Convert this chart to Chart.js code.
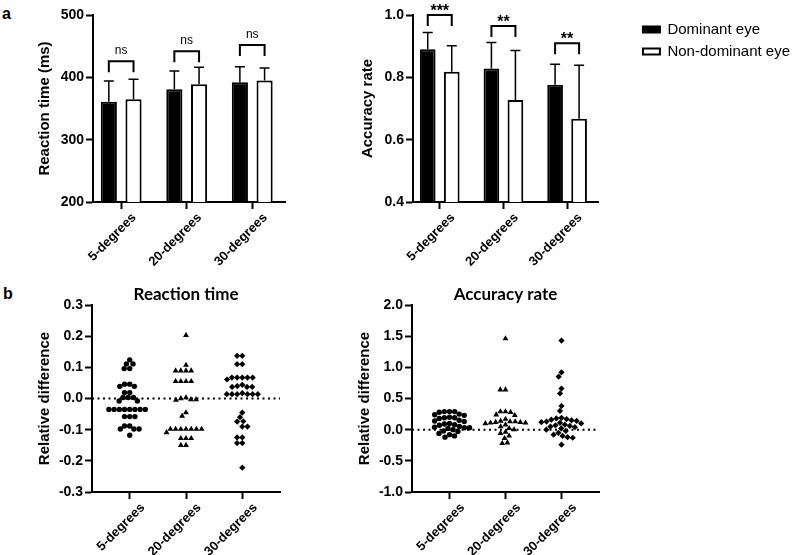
<!DOCTYPE html>
<html>
<head>
<meta charset="utf-8">
<script src="https://cdn.jsdelivr.net/npm/chart.js@4.4.1/dist/chart.umd.min.js"></script>
<style>
  body { margin: 0; background: #fff; }
  #figure { position: relative; width: 800px; height: 555px; overflow: hidden; }
  canvas { position: absolute; }
  .panel-label { position: absolute; font: bold 16px "Liberation Sans", Arial, sans-serif; color: #000; }
</style>
</head>
<body>
<div id="figure">
  <div class="panel-label" style="left:2px;top:5px">a</div>
  <div class="panel-label" style="left:3px;top:285px">b</div>
  <canvas id="rt-bars" width="300" height="280" style="left:0;top:0"></canvas>
  <canvas id="acc-bars" width="510" height="280" style="left:290px;top:0"></canvas>
  <canvas id="rt-diff" width="300" height="275" style="left:0;top:280px"></canvas>
  <canvas id="acc-diff" width="500" height="275" style="left:300px;top:280px"></canvas>
</div>
<script>
// Catégories communes aux quatre panneaux
const categories = ['5-degrees', '20-degrees', '30-degrees'];

// Panneau a : temps de réaction (moyenne, écart-type en ms)
const rtDominantMean = [361, 381, 392];
const rtDominantSd = [33, 29, 25];
const rtNonDominantMean = [365, 389, 395];
const rtNonDominantSd = [32, 27, 20];
const rtBracket = [426, 442, 452];
const rtSignif = ['ns', 'ns', 'ns'];

// Panneau a : taux de bonnes réponses
const accDominantMean = [0.890, 0.828, 0.776];
const accDominantSd = [0.054, 0.084, 0.066];
const accNonDominantMean = [0.818, 0.727, 0.667];
const accNonDominantSd = [0.083, 0.159, 0.172];
const accBracket = [1.0, 0.965, 0.909];
const accSignif = ['***', '**', '**'];

// Panneau b : différence relative, temps de réaction
const rtDiff5 = [0.124, 0.111, 0.111, 0.096, 0.096, 0.046, 0.046, 0.039, 0.039, 0.019, 0.019,
  0.003, 0.003, 0.003, -0.008, -0.008, -0.035, -0.035, -0.035, -0.035, -0.035, -0.035, -0.035,
  -0.035, -0.058, -0.058, -0.058, -0.088, -0.088, -0.098, -0.098, -0.098, -0.118];
const rtDiff20 = [0.203, 0.107, 0.089, 0.089, 0.089, 0.089, 0.055, 0.055, 0.055, 0.055, 0.0,
  0.003, -0.003, -0.003, -0.005, -0.045, -0.056, -0.098, -0.098, -0.098, -0.098, -0.098, -0.098,
  -0.098, -0.109, -0.128, -0.128, -0.128, -0.150, -0.150];
const rtDiff30 = [0.137, 0.137, 0.110, 0.110, 0.067, 0.067, 0.067, 0.067, 0.067, 0.061, 0.044,
  0.040, 0.037, 0.037, 0.037, 0.017, 0.014, 0.014, 0.014, 0.014, 0.014, 0.014, -0.045, -0.060,
  -0.073, -0.074, -0.090, -0.090, -0.125, -0.125, -0.143, -0.143, -0.222];

// Panneau b : différence relative, taux de bonnes réponses
const accDiff5 = [0.29, 0.29, 0.29, 0.28, 0.25, 0.24, 0.23, 0.20, 0.19, 0.19, 0.18, 0.15, 0.14,
  0.13, 0.10, 0.09, 0.08, 0.07, 0.05, 0.04, 0.03, 0.03, 0.02, 0.00, -0.02, -0.03, -0.06, -0.08,
  -0.10, -0.12];
const accDiff20 = [1.46, 0.64, 0.64, 0.29, 0.29, 0.28, 0.24, 0.23, 0.17, 0.14, 0.13, 0.13, 0.12,
  0.12, 0.11, 0.11, 0.10, 0.08, 0.05, 0.02, 0.00, -0.04, -0.06, -0.10, -0.14, -0.21, -0.22];
const accDiff30 = [1.43, 0.92, 0.85, 0.66, 0.58, 0.38, 0.30, 0.19, 0.18, 0.17, 0.16, 0.15, 0.14,
  0.13, 0.12, 0.11, 0.10, 0.08, 0.07, 0.06, 0.05, 0.04, 0.02, 0.00, -0.02, -0.05, -0.08, -0.10,
  -0.12, -0.13, -0.24];

const FONT = '"Liberation Sans", Arial, sans-serif';
Chart.defaults.font.family = FONT;
Chart.defaults.color = '#000';

// Limites et taille (px) des zones de tracé des panneaux b
const STRIP_X_MIN = -0.67;
const STRIP_X_MAX = 2.67;
const STRIP_W = 188;
const STRIP_H = 187;
const DOT = 5.2;
const markerStyles = ['circle', 'triangle', 'rectRot'];
const markerRadius = [2.7, 3.4, 3.1];

const oneDecimal = (v) => (Math.abs(v) < 1e-9 ? 0 : v).toFixed(1);

// Axe x numérique avec une graduation par catégorie
function xAxis(min, max, height) {
    return {
        type: 'linear',
        min: min,
        max: max,
        bounds: 'data',
        offset: false,
        afterBuildTicks: (axis) => { axis.ticks = categories.map((c, i) => ({ value: i })); },
        afterFit: (axis) => { axis.height = height; },
        ticks: {
            autoSkip: false,
            minRotation: 45,
            maxRotation: 45,
            padding: 1,
            labelOffset: 13,
            color: '#000',
            font: { size: 13, weight: 'bold' },
            callback: (v, i) => categories[i]
        },
        grid: { offset: false, drawOnChartArea: false, tickLength: 7, tickWidth: 2, tickColor: '#000' },
        border: { color: '#000', width: 2 }
    };
}

function yAxis(opts) {
    return {
        min: opts.min,
        max: opts.max,
        beginAtZero: false,
        afterFit: (axis) => { axis.width = opts.width; },
        ticks: {
            stepSize: opts.step,
            padding: 2,
            color: '#000',
            font: { size: 14, weight: 'bold' },
            callback: opts.format
        },
        grid: { drawOnChartArea: false, tickLength: 7, tickWidth: 2, tickColor: '#000' },
        border: { color: '#000', width: 2 },
        title: {
            display: true,
            text: opts.title,
            color: '#000',
            font: { size: 15, weight: 'bold' },
            padding: { top: opts.titleGap, bottom: 0 }
        }
    };
}

// Barres d'erreur et crochets de significativité
function sigMarks(sds, levels, labels) {
    return {
        id: 'sigMarks',
        afterDatasetsDraw(chart) {
            const ctx = chart.ctx;
            const y = chart.scales.y;
            ctx.save();
            ctx.strokeStyle = '#000';
            ctx.fillStyle = '#000';
            ctx.lineWidth = 1.5;
            chart.data.datasets.forEach((ds, d) => {
                chart.getDatasetMeta(d).data.forEach((bar, i) => {
                    const top = y.getPixelForValue(ds.data[i].y + sds[d][i]);
                    ctx.beginPath();
                    ctx.moveTo(bar.x, bar.y);
                    ctx.lineTo(bar.x, top);
                    ctx.moveTo(bar.x - 5, top);
                    ctx.lineTo(bar.x + 5, top);
                    ctx.stroke();
                });
            });
            const left = chart.getDatasetMeta(0).data;
            const right = chart.getDatasetMeta(1).data;
            ctx.lineWidth = 2;
            ctx.textAlign = 'center';
            ctx.textBaseline = 'alphabetic';
            levels.forEach((level, i) => {
                const yb = y.getPixelForValue(level);
                ctx.beginPath();
                ctx.moveTo(left[i].x, yb + 11);
                ctx.lineTo(left[i].x, yb);
                ctx.lineTo(right[i].x, yb);
                ctx.lineTo(right[i].x, yb + 11);
                ctx.stroke();
                const stars = labels[i] !== 'ns';
                ctx.font = stars ? 'bold 16px ' + FONT : '12px ' + FONT;
                ctx.fillText(labels[i], (left[i].x + right[i].x) / 2, stars ? yb + 1 : yb - 7);
            });
            ctx.restore();
        }
    };
}

// Espace vide entre la zone de tracé et la légende
const legendGap = {
    id: 'legendGap',
    beforeInit(chart) {
        Chart.layouts.addBox(chart, {
            position: 'right',
            weight: 500,
            fullSize: false,
            options: {},
            left: 0, top: 0, right: 0, bottom: 0, width: 0, height: 0,
            isHorizontal: () => false,
            update(maxWidth, maxHeight) { this.width = 37; this.height = maxHeight; },
            draw() {}
        });
    }
};

function barSets(dominant, nonDominant) {
    const common = { borderColor: '#000', borderWidth: 2, categoryPercentage: 0.754, barPercentage: 0.653 };
    return [
        Object.assign({ label: 'Dominant eye', backgroundColor: '#000',
            data: dominant.map((v, i) => ({ x: i, y: v })) }, common),
        Object.assign({ label: 'Non-dominant eye', backgroundColor: '#fff',
            data: nonDominant.map((v, i) => ({ x: i, y: v })) }, common)
    ];
}

// Empilement des points (beeswarm) calculé à partir des valeurs
function swarm(values, index, yPx, xPx) {
    const placed = [];
    return values.slice().sort((a, b) => b - a).map(v => {
        const py = v * yPx;
        const blocked = [];
        placed.forEach(p => {
            const dy = Math.abs(p.py - py);
            if (dy < DOT) {
                const w = Math.sqrt(DOT * DOT - dy * dy);
                blocked.push([p.px - w, p.px + w]);
            }
        });
        const candidates = [0];
        blocked.forEach(b => candidates.push(b[0], b[1]));
        candidates.sort((a, b) => Math.abs(a) - Math.abs(b));
        const px = candidates.find(c => blocked.every(b => c <= b[0] + 1e-6 || c >= b[1] - 1e-6));
        placed.push({ px: px, py: py });
        return { x: index + px / xPx, y: v };
    });
}

function stripSets(series, yMin, yMax) {
    const yPx = STRIP_H / (yMax - yMin);
    const xPx = STRIP_W / (STRIP_X_MAX - STRIP_X_MIN);
    const sets = series.map((vals, i) => ({
        data: swarm(vals, i, yPx, xPx),
        pointStyle: markerStyles[i],
        pointRadius: markerRadius[i],
        backgroundColor: '#000',
        borderWidth: 0,
        order: 0
    }));
    sets.push({
        data: [{ x: STRIP_X_MIN, y: 0 }, { x: STRIP_X_MAX, y: 0 }],
        showLine: true,
        borderColor: '#000',
        borderWidth: 2,
        borderDash: [2, 3.5],
        pointRadius: 0,
        order: 1
    });
    return sets;
}

function stripTitle(text) {
    return {
        display: true,
        text: text,
        color: '#000',
        fullSize: false,
        font: { family: 'Lato', size: 17, weight: 'bold' },
        padding: { top: 4, bottom: 0 }
    };
}

// Graphique a gauche : temps de réaction
new Chart(document.getElementById('rt-bars'), {
    type: 'bar',
    data: { datasets: barSets(rtDominantMean, rtNonDominantMean) },
    options: {
        responsive: false,
        animation: false,
        layout: { padding: { top: 15, right: 15, bottom: 0, left: 0 } },
        scales: {
            x: xAxis(-0.43, 2.5, 78),
            y: yAxis({ min: 200, max: 500, step: 100, width: 93, title: 'Reaction time (ms)', titleGap: 36 })
        },
        plugins: { legend: { display: false }, tooltip: { enabled: false } }
    },
    plugins: [sigMarks([rtDominantSd, rtNonDominantSd], rtBracket, rtSignif)]
});

// Graphique a droite : taux de bonnes réponses, avec la légende
new Chart(document.getElementById('acc-bars'), {
    type: 'bar',
    data: { datasets: barSets(accDominantMean, accNonDominantMean) },
    options: {
        responsive: false,
        animation: false,
        layout: { padding: { top: 15, right: 0, bottom: 0, left: 0 } },
        scales: {
            x: xAxis(-0.42, 2.5, 78),
            y: yAxis({ min: 0.4, max: 1.0, step: 0.2, width: 123, title: 'Accuracy rate', titleGap: 69, format: oneDecimal })
        },
        plugins: {
            legend: {
                display: true,
                position: 'right',
                align: 'start',
                maxWidth: 300,
                labels: { boxWidth: 17, boxHeight: 6, padding: 7, color: '#000', font: { size: 15 } }
            },
            tooltip: { enabled: false }
        }
    },
    plugins: [legendGap, sigMarks([accDominantSd, accNonDominantSd], accBracket, accSignif)]
});

// Graphique b gauche : différence relative du temps de réaction
new Chart(document.getElementById('rt-diff'), {
    type: 'scatter',
    data: { datasets: stripSets([rtDiff5, rtDiff20, rtDiff30], -0.3, 0.3) },
    options: {
        responsive: false,
        animation: false,
        layout: { padding: { top: 0.6, right: 20, bottom: 0, left: 0 } },
        scales: {
            x: xAxis(STRIP_X_MIN, STRIP_X_MAX, 63),
            y: yAxis({ min: -0.3, max: 0.3, step: 0.1, width: 92, title: 'Relative difference', titleGap: 36, format: oneDecimal })
        },
        plugins: { legend: { display: false }, tooltip: { enabled: false }, title: stripTitle('Reaction time') }
    }
});

// Graphique b droite : différence relative du taux de bonnes réponses
new Chart(document.getElementById('acc-diff'), {
    type: 'scatter',
    data: { datasets: stripSets([accDiff5, accDiff20, accDiff30], -1.0, 2.0) },
    options: {
        responsive: false,
        animation: false,
        layout: { padding: { top: 0.6, right: 201, bottom: 0, left: 0 } },
        scales: {
            x: xAxis(STRIP_X_MIN, STRIP_X_MAX, 63),
            y: yAxis({ min: -1.0, max: 2.0, step: 0.5, width: 112, title: 'Relative difference', titleGap: 56, format: oneDecimal })
        },
        plugins: { legend: { display: false }, tooltip: { enabled: false }, title: stripTitle('Accuracy rate') }
    }
});
</script>
</body>
</html>
